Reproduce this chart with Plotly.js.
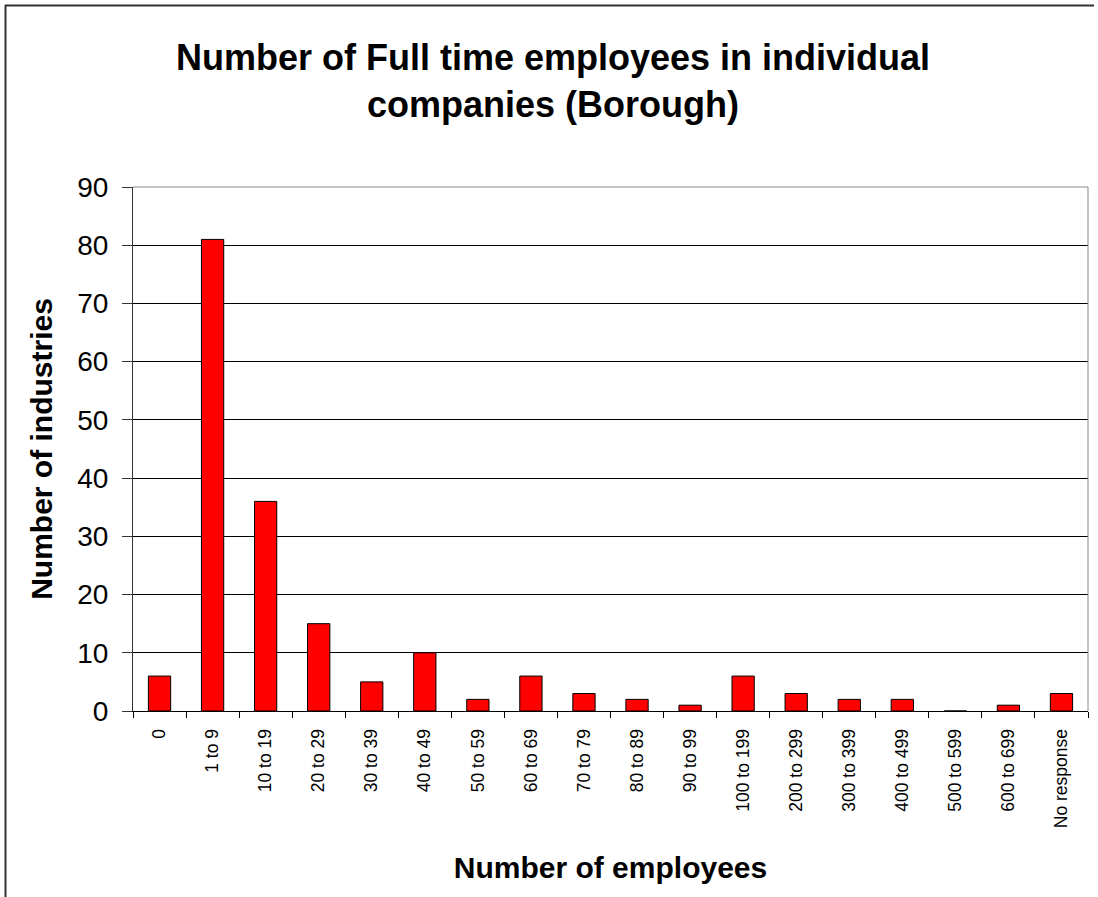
<!DOCTYPE html>
<html>
<head>
<meta charset="utf-8">
<script src="https://cdn.plot.ly/plotly-3.0.1.min.js"></script>
<style>
html,body{margin:0;padding:0;background:#fff;}
#chart{width:1098px;height:897px;}
</style>
</head>
<body>
<div id="chart"></div>
<script>
const categories = ["0","1 to 9","10 to 19","20 to 29","30 to 39","40 to 49","50 to 59","60 to 69","70 to 79","80 to 89","90 to 99","100 to 199","200 to 299","300 to 399","400 to 499","500 to 599","600 to 699","No response"];
const counts = [6,81,36,15,5,10,2,6,3,2,1,6,3,2,2,0,1,3];
const yTicks = [0,10,20,30,40,50,60,70,80,90];

const W = 1098, H = 897;
const mL = 133, mR = 10, mT = 187, mB = 186;
const pw = W - mL - mR, ph = H - mT - mB;
const px = v => (v - mL) / pw;
const py = v => 1 - (v - mT) / ph;

const trace = {
  type: 'bar',
  x: categories,
  y: counts,
  marker: {color: '#FF0000', line: {color: '#000000', width: 1}},
  hoverinfo: 'x+y'
};

const layout = {
  width: W, height: H,
  margin: {l: mL, r: mR, t: mT, b: mB},
  paper_bgcolor: '#ffffff',
  plot_bgcolor: '#ffffff',
  showlegend: false,
  bargap: 0.58,
  font: {family: 'Liberation Sans, Arial, sans-serif', color: '#000'},
  title: {
    text: '<b>Number of Full time employees in individual<br>companies (Borough)</b>',
    font: {size: 36, family: 'Liberation Sans, Arial, sans-serif', color: '#000'},
    x: 553 / W, xanchor: 'center', xref: 'container',
    y: 1 - 70 / H, yanchor: 'middle', yref: 'container'
  },
  xaxis: {
    type: 'category',
    tickangle: -90,
    tickfont: {size: 17.5},
    ticks: 'outside', ticklen: 6, tickcolor: '#000', tickwidth: 1,
    tickson: 'boundaries',
    ticklabelstandoff: 10,
    showline: true, linecolor: '#000', linewidth: 1,
    showgrid: false,
    title: {text: '<b>Number of employees</b>', font: {size: 30}, standoff: 29},
    automargin: false
  },
  yaxis: {
    range: [0, 90],
    tickvals: yTicks,
    tickfont: {size: 28},
    ticks: 'outside', ticklen: 10, tickcolor: '#333', tickwidth: 1,
    ticklabelstandoff: 8,
    showline: true, linecolor: '#333', linewidth: 1,
    showgrid: true, gridcolor: '#000', gridwidth: 1,
    zeroline: false,
    title: {text: '<b>Number of industries</b>', font: {size: 30}, standoff: 15},
    automargin: false,
    fixedrange: true
  },
  shapes: [
    {type: 'line', xref: 'paper', yref: 'paper', x0: 0, x1: 1, y0: 1, y1: 1, line: {color: '#888', width: 1}},
    {type: 'line', xref: 'paper', yref: 'paper', x0: 1, x1: 1, y0: 0, y1: 1, line: {color: '#888', width: 1}},
    {type: 'line', xref: 'paper', yref: 'paper', x0: px(5), x1: px(1094), y0: py(5.5), y1: py(5.5), line: {color: '#333', width: 2}},
    {type: 'line', xref: 'paper', yref: 'paper', x0: px(5.5), x1: px(5.5), y0: py(5), y1: py(897), line: {color: '#333', width: 2}}
  ]
};

Plotly.newPlot('chart', [trace], layout, {displayModeBar: false, staticPlot: true});
</script>
</body>
</html>
